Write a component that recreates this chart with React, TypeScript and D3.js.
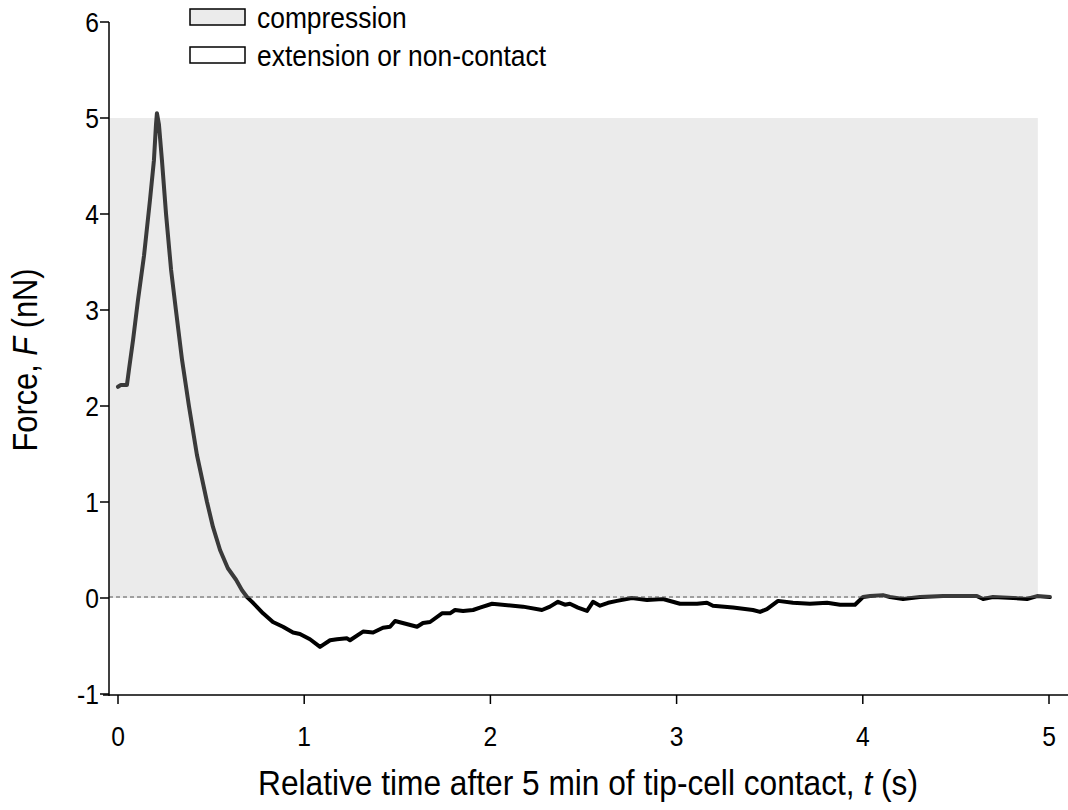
import * as d3 from 'd3';

// force trace: time (s) and force (nN)
const times = [
  0, 0.016, 0.048, 0.059, 0.081, 0.107, 0.14, 0.172, 0.193, 0.204, 0.209,
  0.22, 0.236, 0.258, 0.285, 0.311, 0.344, 0.381, 0.424, 0.478, 0.51, 0.548, 0.59, 0.634, 0.666, 0.693,
  0.72, 0.779, 0.832, 0.886, 0.94, 0.977, 1.031, 1.085, 1.139, 1.176, 1.23, 1.246, 1.316, 1.37, 1.423,
  1.461, 1.488, 1.606, 1.638, 1.676, 1.74, 1.783, 1.81, 1.853, 1.907, 1.944, 2.009, 2.121, 2.175, 2.277,
  2.32, 2.363, 2.4, 2.427, 2.47, 2.519, 2.551, 2.589, 2.632, 2.68, 2.76, 2.841, 2.927, 3.018, 3.11, 3.163,
  3.195, 3.303, 3.41, 3.448, 3.485, 3.545, 3.625, 3.716, 3.808, 3.878, 3.958, 4.001, 4.039, 4.108, 4.146,
  4.216, 4.307, 4.431, 4.522, 4.613, 4.646, 4.699, 4.807, 4.882, 4.936, 5.005,
];
const forces = [
  2.2, 2.22, 2.22, 2.38, 2.69, 3.1, 3.57, 4.15, 4.56, 4.93, 5.05,
  4.93, 4.56, 4.0, 3.42, 3.0, 2.48, 2.0, 1.49, 1.0, 0.74, 0.5, 0.31, 0.19, 0.08, 0.01,
  -0.04, -0.16, -0.25, -0.3, -0.36, -0.375, -0.43, -0.51, -0.44, -0.43, -0.42, -0.44, -0.35, -0.36, -0.31,
  -0.3, -0.24, -0.3, -0.26, -0.25, -0.16, -0.16, -0.125, -0.135, -0.125, -0.1, -0.06, -0.08, -0.09, -0.125,
  -0.09, -0.04, -0.07, -0.06, -0.1, -0.135, -0.04, -0.08, -0.05, -0.03, 0.0, -0.02, -0.01, -0.06, -0.06, -0.05,
  -0.08, -0.1, -0.125, -0.145, -0.115, -0.03, -0.05, -0.06, -0.05, -0.07, -0.07, 0.01, 0.02, 0.03, 0.01,
  -0.01, 0.01, 0.02, 0.02, 0.02, -0.01, 0.01, 0.0, -0.01, 0.02, 0.01,
];

const xTicks = [0, 1, 2, 3, 4, 5];
const yTicks = [-1, 0, 1, 2, 3, 4, 5, 6];
// shaded compression band: force range and time extent
const bandForce = [0, 5];
const bandTime = [0, 4.94];
const legendLabels = ['compression', 'extension or non-contact'];
const legendFills = ['#ebebeb', '#ffffff'];

const W = 1068;
const H = 810;
const font = 'Liberation Sans, Arial, sans-serif';
const squeeze = 'scale(0.88,1)'; // the original lettering is a bit narrow

const App = () => {
  const x = d3.scaleLinear().domain([0, 5]).range([118, 1049]);
  const y = d3.scaleLinear().domain([-1, 6]).range([694, 22]);
  const axisX = 109;
  const axisY = 695;

  const pts: [number, number][] = times.map((t, i) => [t, forces[i]]);
  const line = d3.line<[number, number]>()
    .x(d => x(d[0]))
    .y(d => y(d[1]));
  const path = line(pts) || '';

  return (
    <svg width={W} height={H} style={{ position: 'absolute', left: 0, top: 0 }} fontFamily={font}>
      <defs>
        <clipPath id="above">
          <rect x={0} y={0} width={W} height={y(0)} />
        </clipPath>
        <clipPath id="below">
          <rect x={0} y={y(0)} width={W} height={H - y(0)} />
        </clipPath>
      </defs>

      {/* compression band */}
      <rect x={axisX} y={y(bandForce[1])} width={x(bandTime[1]) - axisX}
        height={y(bandForce[0]) - y(bandForce[1])} fill="#ebebeb" />
      <line x1={axisX} x2={x(bandTime[1])} y1={y(0) - 1} y2={y(0) - 1}
        stroke="#555" strokeWidth={1} strokeDasharray="4,3" />

      {/* trace */}
      <path d={path} fill="none" stroke="#3a3a3a" strokeWidth={4} strokeLinejoin="round" strokeLinecap="round" clipPath="url(#above)" />
      <path d={path} fill="none" stroke="#000" strokeWidth={4} strokeLinejoin="round" strokeLinecap="round" clipPath="url(#below)" />

      {/* y axis */}
      <line x1={axisX} x2={axisX} y1={y(6)} y2={axisY + 1} stroke="#000" strokeWidth={1.5} />
      {yTicks.map(v => (
        <g key={v} transform={`translate(0,${y(v)})`}>
          <line x1={axisX - 9} x2={axisX} stroke="#000" strokeWidth={1.5} />
          <text transform={`translate(${axisX - 10},0) ${squeeze}`} dy="0.36em" textAnchor="end" fontSize={28}>{v}</text>
        </g>
      ))}

      {/* x axis */}
      <line x1={axisX - 6} x2={W} y1={axisY} y2={axisY} stroke="#000" strokeWidth={1.5} />
      {xTicks.map(v => (
        <g key={v} transform={`translate(${x(v)},${axisY})`}>
          <line y1={0} y2={9} stroke="#000" strokeWidth={1.5} />
          <text transform={`translate(0,51) ${squeeze}`} textAnchor="middle" fontSize={28}>{v}</text>
        </g>
      ))}

      {/* axis titles */}
      <text transform={`translate(37,360) rotate(-90) ${squeeze}`} textAnchor="middle" fontSize={35}>
        Force, <tspan fontStyle="italic">F</tspan> (nN)
      </text>
      <text transform={`translate(588,795) ${squeeze}`} textAnchor="middle" fontSize={36}>
        Relative time after 5 min of tip-cell contact, <tspan fontStyle="italic">t</tspan> (s)
      </text>

      {/* legend */}
      {legendLabels.map((lab, i) => (
        <g key={lab} transform={`translate(190,${9 + i * 38})`}>
          <rect width={55} height={16} fill={legendFills[i]} stroke="#000" strokeWidth={1.5} />
          <text transform={`translate(67,19) ${squeeze}`} fontSize={30}>{lab}</text>
        </g>
      ))}
    </svg>
  );
};

export default App;
